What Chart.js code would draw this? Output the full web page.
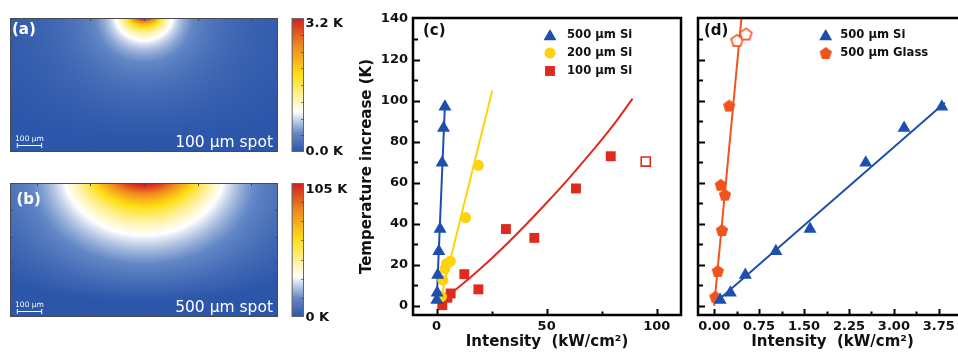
<!DOCTYPE html>
<html>
<head>
<meta charset="utf-8">
<script src="https://cdn.jsdelivr.net/npm/chart.js@4.4.1/dist/chart.umd.min.js"></script>
<style>
  html, body { margin: 0; padding: 0; background: #fff; width: 958px; height: 352px; overflow: hidden; }
  .panel { position: absolute; }
  canvas { display: block; }
</style>
</head>
<body>
<div class="panel" style="left:0;top:0"><canvas id="mapA" width="350" height="170"></canvas></div>
<div class="panel" style="left:0;top:170px"><canvas id="mapB" width="350" height="182"></canvas></div>
<div class="panel" style="left:350px;top:0"><canvas id="plotC" width="340" height="352"></canvas></div>
<div class="panel" style="left:690px;top:0"><canvas id="plotD" width="280" height="352"></canvas></div>
<script>
// ---- measured temperature rise (K) versus intensity (kW/cm²) ----
const si500Intensity = [0.10, 0.27, 0.52, 1.03, 1.60, 2.53, 3.17, 3.80];
const si500Rise      = [2.8, 6.3, 15.0, 26.6, 37.4, 69.7, 86.7, 97.0];
const si500FitIntensity = [0.07, 3.85];
const si500FitRise      = [2.8, 99.0];

const si200Intensity = [2.2, 2.9, 3.8, 4.5, 6.3, 13.2, 19.0];
const si200Rise      = [4.5, 12.5, 18.0, 20.5, 21.8, 43.0, 68.5];
const si200FitIntensity = [1.5, 25.3];
const si200FitRise      = [2.0, 105.0];

const si100Intensity = [2.6, 4.9, 6.4, 12.6, 19.0, 31.5, 44.4, 63.3, 79.1];
const si100Rise      = [0.3, 3.9, 6.0, 15.4, 8.0, 37.4, 33.1, 57.2, 72.9];
const si100OpenIntensity = [95.0];
const si100OpenRise      = [70.3];
const si100FitIntensity = [0.8, 10, 20, 30, 40, 50, 60, 70, 80, 89];
const si100FitRise      = [1.2, 9.0, 18.2, 28.2, 38.9, 50.2, 62.0, 74.5, 87.7, 101.0];

const glassIntensity = [0.02, 0.06, 0.13, 0.18, 0.11, 0.25];
const glassRise      = [4.4, 17.0, 36.9, 54.2, 59.0, 97.6];
const glassOpenIntensity = [0.38, 0.53];
const glassOpenRise      = [129.4, 132.5];
const glassFitIntensity = [0.0, 0.5];
const glassFitRise      = [0.0, 154.0];

// ---- tick labels ----
const riseTicks = [0, 20, 40, 60, 80, 100, 120, 140];
const intensityTicksC = [0, 50, 100];
const intensityTicksD = [0.00, 0.75, 1.50, 2.25, 3.00, 3.75];

// ---- simulated temperature maps (cross-section, µm) ----
const mapWidthTicks = [-440, -220, 0, 220, 440];
const mapDepthTicks = [110, 220, 330, 440];
const mapBeamRadius = [60, 200];           // µm, Gaussian 1/e radius of the source
const mapSinkDepth  = 550;                 // µm, isothermal back face
const mapSpotLabels = ['100 µm spot', '500 µm spot'];
const mapMaxLabels  = ['3.2 K', '105 K'];
const mapMinLabels  = ['0.0 K', '0 K'];
const mapTags       = ['(a)', '(b)'];

const FONT = "'DejaVu Sans', 'Liberation Sans', sans-serif";
const BLUE = '#1f4fae', YELLOW = '#ffd20f', RED = '#e02a1e', ORANGE = '#f1531f';

const pts = (xs, ys) => xs.map((x, i) => ({ x, y: ys[i] }));
const midpoints = v => {
  const out = [];
  const step = v[1] - v[0];
  out.push(v[0] - step / 2);
  for (let i = 0; i < v.length - 1; i++) out.push((v[i] + v[i + 1]) / 2);
  out.push(v[v.length - 1] + step / 2);
  return out;
};

// regular pentagon marker, point up
function pentagon(r, fill, stroke, lw) {
  const size = Math.ceil(2 * r + lw + 3);
  const c = document.createElement('canvas');
  c.width = c.height = size;
  const g = c.getContext('2d');
  g.beginPath();
  for (let k = 0; k < 5; k++) {
    const a = -Math.PI / 2 + k * 2 * Math.PI / 5;
    const px = size / 2 + r * Math.cos(a), py = size / 2 + r * Math.sin(a) + r * 0.095;
    k ? g.lineTo(px, py) : g.moveTo(px, py);
  }
  g.closePath();
  g.fillStyle = fill; g.fill();
  if (stroke) { g.lineWidth = lw; g.strokeStyle = stroke; g.stroke(); }
  return c;
}
const pentFilled = pentagon(6.5, ORANGE, null, 0);
const pentOpen = pentagon(6.2, '#fff', ORANGE, 1.6);

function fitLine(xs, ys, color, smooth) {
  return { data: pts(xs, ys), showLine: true, borderColor: color, borderWidth: 2,
           pointRadius: 0, fill: false, order: 2, cubicInterpolationMode: smooth ? 'monotone' : 'default' };
}
function markers(xs, ys, style, radius, fill, stroke, bw, label) {
  return { data: pts(xs, ys), showLine: false, pointStyle: style, pointRadius: radius,
           backgroundColor: fill, borderColor: stroke, borderWidth: bw, order: 1, label };
}

function drawMarker(ctx, ds, px, py) {
  ctx.save();
  ctx.fillStyle = ds.backgroundColor;
  ctx.strokeStyle = ds.borderColor;
  ctx.lineWidth = ds.borderWidth;
  Chart.helpers.drawPoint(ctx, { pointStyle: ds.pointStyle, radius: ds.pointRadius, rotation: 0,
                                 borderWidth: ds.borderWidth }, px, py);
  ctx.restore();
}

// box frame, inward ticks, panel tag and in-plot legend
const plotFrame = {
  id: 'plotFrame',
  afterDatasetsDraw(chart, _args, o) {
    const { ctx, chartArea: a, scales: { x, y } } = chart;
    ctx.save();
    ctx.strokeStyle = '#000';
    ctx.lineWidth = 2;
    ctx.beginPath();
    const tick = (vals, scale, horiz, len) => vals.forEach(v => {
      const p = Math.round(scale.getPixelForValue(v)) + 0.5;
      if (horiz) {
        if (p < a.left + 2 || p > a.right - 2) return;
        ctx.moveTo(p, a.bottom); ctx.lineTo(p, a.bottom - len);
      } else {
        if (p < a.top + 2 || p > a.bottom - 2) return;
        ctx.moveTo(a.left, p); ctx.lineTo(a.left + len, p);
      }
    });
    tick(o.xMajor, x, true, 6);
    tick(midpoints(o.xMajor), x, true, 3.5);
    tick(o.yMajor, y, false, 7);
    tick(midpoints(o.yMajor), y, false, 5);
    ctx.stroke();
    ctx.lineWidth = 2.5;
    ctx.strokeRect(a.left, a.top, a.right - a.left, a.bottom - a.top);

    ctx.fillStyle = '#111';
    ctx.font = `bold 15px ${FONT}`;
    ctx.textAlign = 'left';
    ctx.textBaseline = 'middle';
    ctx.fillText(o.tag, a.left + o.tagDx, a.top + 13);

    const L = o.legend;
    ctx.font = `bold 11.6px ${FONT}`;
    L.entries.forEach((idx, row) => {
      const ds = chart.data.datasets[idx];
      const mx = a.left + L.dx, my = a.top + L.dy + row * L.gap;
      drawMarker(ctx, ds, mx, my + (ds.pointStyle === 'triangle' ? 1.5 : 0));
      ctx.fillStyle = '#111';
      ctx.fillText(ds.label, mx + L.textDx, my);
    });
    ctx.restore();
  }
};

const tickFont = { family: FONT, size: 13, weight: 'bold' };
const titleFont = { family: FONT, size: 15, weight: 'bold' };

function plotOptions(cfg) {
  return {
    responsive: false, animation: false, devicePixelRatio: 1, events: [],
    layout: { autoPadding: false, padding: cfg.padding },
    plugins: { legend: { display: false }, tooltip: { enabled: false }, plotFrame: cfg.frame },
    scales: {
      x: {
        type: 'linear', min: cfg.xMin, max: cfg.xMax,
        afterFit: s => { s.height = cfg.xHeight; },
        afterBuildTicks: s => { s.ticks = cfg.xTicks.map(v => ({ value: v })); },
        ticks: { font: tickFont, color: '#111', padding: 4, maxRotation: 0, autoSkip: false,
                 callback: cfg.xFormat },
        grid: { display: false, drawTicks: false },
        border: { display: false },
        title: { display: true, text: 'Intensity  (kW/cm²)', font: titleFont, color: '#111',
                 padding: { top: 0, bottom: 1 } }
      },
      y: {
        type: 'linear', min: -4.5, max: 140.3,
        afterFit: s => { s.width = cfg.yWidth; },
        afterBuildTicks: s => { s.ticks = riseTicks.map(v => ({ value: v })); },
        ticks: { display: cfg.yLabels, font: tickFont, color: '#111', padding: 5, autoSkip: false },
        grid: { display: false, drawTicks: false },
        border: { display: false },
        title: { display: cfg.yLabels, text: 'Temperature increase (K)', font: titleFont, color: '#111',
                 padding: { top: 8, bottom: 0 } }
      }
    }
  };
}

// (c) all three wafer thicknesses
new Chart(document.getElementById('plotC'), {
  type: 'scatter',
  data: { datasets: [
    fitLine(si500FitIntensity, si500FitRise, BLUE),
    fitLine(si200FitIntensity, si200FitRise, YELLOW),
    fitLine(si100FitIntensity, si100FitRise, RED, true),
    markers(si500Intensity, si500Rise, 'triangle', 7.5, BLUE, BLUE, 0, '500 µm Si'),
    markers(si200Intensity, si200Rise, 'circle', 5.5, YELLOW, YELLOW, 0, '200 µm Si'),
    markers(si100Intensity, si100Rise, 'rect', 7, RED, RED, 0, '100 µm Si'),
    markers(si100OpenIntensity, si100OpenRise, 'rect', 6.4, '#fff', RED, 1.6)
  ] },
  options: plotOptions({
    padding: { top: 18, right: 9, left: 0, bottom: 0 },
    xMin: -10.7, xMax: 111, xHeight: 37, yWidth: 63, yLabels: true,
    xTicks: intensityTicksC, xFormat: v => String(v),
    frame: { xMajor: intensityTicksC, yMajor: riseTicks, tag: '(c)', tagDx: 10,
             legend: { dx: 137, dy: 17, gap: 18, textDx: 17, entries: [3, 4, 5] } }
  }),
  plugins: [plotFrame]
});

// (d) silicon versus glass, 500 µm
new Chart(document.getElementById('plotD'), {
  type: 'scatter',
  data: { datasets: [
    fitLine(si500FitIntensity, si500FitRise, BLUE),
    fitLine(glassFitIntensity, glassFitRise, ORANGE),
    markers(si500Intensity, si500Rise, 'triangle', 7.5, BLUE, BLUE, 0, '500 µm Si'),
    markers(glassIntensity, glassRise, pentFilled, 6.5, ORANGE, ORANGE, 0, '500 µm Glass'),
    markers(glassOpenIntensity, glassOpenRise, pentOpen, 6.5, '#fff', ORANGE, 0)
  ] },
  options: plotOptions({
    padding: { top: 18, right: 3, left: 0, bottom: 0 },
    xMin: -0.27, xMax: 4.22, xHeight: 37, yWidth: 8, yLabels: false,
    xTicks: intensityTicksD, xFormat: v => v.toFixed(2),
    frame: { xMajor: intensityTicksD, yMajor: riseTicks, tag: '(d)', tagDx: 6,
             legend: { dx: 127.7, dy: 17, gap: 18, textDx: 14.5, entries: [2, 3] } }
  }),
  plugins: [plotFrame]
});

// ---- temperature maps ----
const colourStops = [
  [0.00, [44, 86, 170]],
  [0.14, [100, 136, 198]],
  [0.30, [255, 255, 255]],
  [0.58, [255, 222, 20]],
  [0.80, [240, 135, 30]],
  [1.00, [210, 30, 35]]
];
function colourAt(t) {
  t = Math.max(0, Math.min(1, t));
  for (let i = 1; i < colourStops.length; i++) {
    const [t1, c1] = colourStops[i];
    if (t <= t1) {
      const [t0, c0] = colourStops[i - 1];
      const f = (t - t0) / (t1 - t0);
      return [c0[0] + f * (c1[0] - c0[0]), c0[1] + f * (c1[1] - c0[1]), c0[2] + f * (c1[2] - c0[2])];
    }
  }
  return colourStops[colourStops.length - 1][1];
}

// steady conduction from a Gaussian surface source into a slab:
// insulated top face, isothermal back face at depth D (handled with image sources)
function slabField(xs, zs, w, D) {
  const h = w / 8, n = Math.ceil(3 * w / h);
  const src = [];
  let P = 0;
  for (let i = -n; i <= n; i++) {
    for (let j = 0; j <= n; j++) {
      const sx = i * h, sy = j * h;
      const q = Math.exp(-(sx * sx + sy * sy) / (w * w));
      if (q < 1e-4) continue;
      const wq = j === 0 ? q : 2 * q;
      src.push(sx, sy * sy, wq);
      P += wq;
    }
  }
  const images = [[2 * D, -1], [-2 * D, -1], [4 * D, 1], [-4 * D, 1], [6 * D, -1], [-6 * D, -1]];
  const eps2 = (h * 0.5) * (h * 0.5);
  const T = new Float32Array(xs.length * zs.length);
  for (let r = 0; r < zs.length; r++) {
    const z = zs[r], z2 = z * z + eps2;
    for (let c = 0; c < xs.length; c++) {
      const x = xs[c];
      let s = 0;
      for (let k = 0; k < src.length; k += 3) {
        const dx = x - src[k];
        s += src[k + 2] / Math.sqrt(dx * dx + src[k + 1] + z2);
      }
      for (const [zi, sign] of images) {
        const dz = z - zi;
        s += sign * P / Math.sqrt(x * x + dz * dz);
      }
      T[r * xs.length + c] = Math.max(0, s);
    }
  }
  return T;
}

const heatField = {
  id: 'heatField',
  beforeDatasetsDraw(chart, _args, o) {
    const { ctx, chartArea: a, scales: { x, y } } = chart;
    const W = Math.round(a.right - a.left), H = Math.round(a.bottom - a.top);
    const xs = [], zs = [];
    for (let i = 0; i < W; i++) xs.push(x.getValueForPixel(a.left + i + 0.5));
    for (let j = 0; j < H; j++) zs.push(y.getValueForPixel(a.top + j + 0.5));
    const T = slabField(xs, zs, o.beamRadius, mapSinkDepth);
    let tMax = 0;
    for (const v of T) if (v > tMax) tMax = v;
    const off = document.createElement('canvas');
    off.width = W; off.height = H;
    const g = off.getContext('2d');
    const img = g.createImageData(W, H);
    for (let k = 0; k < T.length; k++) {
      const c = colourAt(T[k] / tMax);
      img.data[4 * k] = c[0]; img.data[4 * k + 1] = c[1]; img.data[4 * k + 2] = c[2]; img.data[4 * k + 3] = 255;
    }
    g.putImageData(img, 0, 0);
    ctx.drawImage(off, a.left, a.top);
  },
  afterDraw(chart, _args, o) {
    const { ctx, chartArea: a, scales: { x, y } } = chart;
    ctx.save();
    // frame with small inward ticks
    ctx.strokeStyle = '#4a4a4a';
    ctx.lineWidth = 1;
    ctx.strokeRect(a.left + 0.5, a.top + 0.5, a.right - a.left - 1, a.bottom - a.top - 1);
    ctx.beginPath();
    mapWidthTicks.forEach(v => {
      const p = Math.round(x.getPixelForValue(v)) + 0.5;
      ctx.moveTo(p, a.top); ctx.lineTo(p, a.top + 3);
      ctx.moveTo(p, a.bottom); ctx.lineTo(p, a.bottom - 3);
    });
    mapDepthTicks.forEach(v => {
      const p = Math.round(y.getPixelForValue(v)) + 0.5;
      ctx.moveTo(a.left, p); ctx.lineTo(a.left + 3, p);
      ctx.moveTo(a.right, p); ctx.lineTo(a.right - 3, p);
    });
    ctx.stroke();

    // colour bar
    const bx = a.right + 13.7, bw = 12.3, bt = a.top, bh = a.bottom - a.top;
    for (let j = 0; j < Math.ceil(bh); j++) {
      const c = colourAt(1 - (j + 0.5) / bh);
      ctx.fillStyle = `rgb(${c[0] | 0},${c[1] | 0},${c[2] | 0})`;
      ctx.fillRect(bx, bt + j, bw, 1);
    }
    ctx.strokeStyle = '#666';
    ctx.strokeRect(bx + 0.5, bt + 0.5, bw - 1, bh - 1);
    ctx.strokeStyle = 'rgba(60,60,60,0.6)';
    ctx.beginPath();
    for (let k = 1; k < o.barDivisions; k++) {
      const p = Math.round(bt + bh * k / o.barDivisions) + 0.5;
      ctx.moveTo(bx + bw - 3, p); ctx.lineTo(bx + bw, p);
    }
    ctx.stroke();
    ctx.fillStyle = '#111';
    ctx.font = `bold 13px ${FONT}`;
    ctx.textAlign = 'left';
    ctx.textBaseline = 'middle';
    ctx.fillText(o.maxLabel, bx + bw + 1.5, bt + o.maxDy);
    ctx.fillText(o.minLabel, bx + bw + 1.5, a.bottom + o.minDy);

    // labels in the map
    ctx.fillStyle = '#fff';
    ctx.font = `bold 15px ${FONT}`;
    ctx.fillText(o.tag, a.left + o.tagDx, a.top + o.tagDy);
    ctx.font = `15.5px ${FONT}`;
    ctx.textAlign = 'right';
    ctx.textBaseline = 'alphabetic';
    ctx.fillText(o.spot, a.right - 5, a.bottom - 5);

    // 100 µm scale bar
    const x0 = x.getPixelForValue(-520), x1 = x.getPixelForValue(-420);
    const yb = Math.round(a.bottom - o.barUp) + 0.5;
    ctx.strokeStyle = '#fff';
    ctx.lineWidth = 1;
    ctx.beginPath();
    ctx.moveTo(x0, yb); ctx.lineTo(x1, yb);
    ctx.moveTo(x0, yb - 2.5); ctx.lineTo(x0, yb + 2.5);
    ctx.moveTo(x1, yb - 2.5); ctx.lineTo(x1, yb + 2.5);
    ctx.stroke();
    ctx.font = `7.5px ${FONT}`;
    ctx.textAlign = 'center';
    ctx.fillText('100 µm', (x0 + x1) / 2, yb - 5);
    ctx.restore();
  }
};

function mapChart(id, k, padding, extra) {
  return new Chart(document.getElementById(id), {
    type: 'scatter',
    data: { datasets: [] },
    options: {
      responsive: false, animation: false, devicePixelRatio: 1, events: [],
      layout: { autoPadding: false, padding },
      plugins: {
        legend: { display: false }, tooltip: { enabled: false },
        heatField: Object.assign({ beamRadius: mapBeamRadius[k], spot: mapSpotLabels[k],
          maxLabel: mapMaxLabels[k], minLabel: mapMinLabels[k], tag: mapTags[k] }, extra)
      },
      scales: {
        x: { type: 'linear', display: false, min: -550, max: 550 },
        y: { type: 'linear', display: false, min: 0, max: 550, reverse: true }
      }
    },
    plugins: [heatField]
  });
}

mapChart('mapA', 0, { left: 10, top: 18, right: 72, bottom: 18 },
  { tagDx: 2, tagDy: 12.5, maxDy: 5.5, minDy: 0, barUp: 6.6, barDivisions: 8 });
mapChart('mapB', 1, { left: 10, top: 13, right: 72, bottom: 35 },
  { tagDx: 6.5, tagDy: 17, maxDy: 6.5, minDy: 0.5, barUp: 5.6, barDivisions: 7 });
</script>
</body>
</html>
